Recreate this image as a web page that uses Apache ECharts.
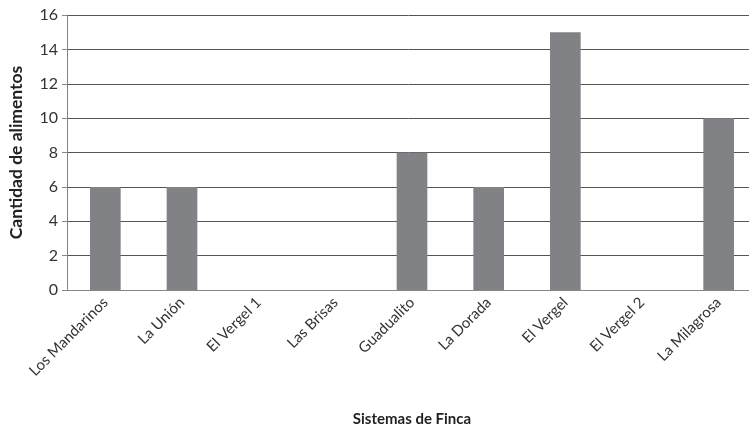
<!DOCTYPE html>
<html><head><meta charset="utf-8">
<script src="https://cdn.jsdelivr.net/npm/echarts@6/dist/echarts.min.js"></script>
<style>html,body{margin:0;padding:0;background:#fff}#c{width:749px;height:428px}</style>
</head><body><div id="c"></div>
<script>
var categories = ["Los Mandarinos","La Unión","El Vergel 1","Las Brisas","Guadualito","La Dorada","El Vergel","El Vergel 2","La Milagrosa"];
var values = [6,6,0,0,8,6,15,0,10];
var yTicks = {min:0,max:16,interval:2};
var xTitle = "Sistemas de Finca";
var yTitle = "Cantidad de alimentos";
var font = "Lato, 'Open Sans', sans-serif";
var chart = echarts.init(document.getElementById('c'));
chart.setOption({
  animation:false,
  grid:{left:67,top:15,width:690,bottom:138,containLabel:false,outerBoundsMode:'none'},
  xAxis:{type:'category',data:categories,
    name:xTitle,nameLocation:'middle',nameGap:122,
    nameTextStyle:{fontFamily:font,fontWeight:'bold',fontSize:15,color:'#222'},
    axisLine:{lineStyle:{color:'#868686',width:1}},axisTick:{show:false},
    axisLabel:{rotate:45,interval:0,fontFamily:font,fontSize:15,color:'#333',margin:10,padding:[0,0,0,0]}},
  yAxis:{type:'value',min:yTicks.min,max:yTicks.max,interval:yTicks.interval,
    name:yTitle,nameLocation:'middle',nameGap:42,nameRotate:90,
    nameTextStyle:{fontFamily:font,fontWeight:'bold',fontSize:17.5,color:'#222'},
    axisLine:{show:true,lineStyle:{color:'#868686'}},
    axisTick:{show:true,length:5,lineStyle:{color:'#868686'}},
    axisLabel:{fontFamily:font,fontSize:16,color:'#333',margin:9},
    splitLine:{lineStyle:{color:'#555',width:1}}},
  series:[{type:'bar',data:values,barWidth:'40%',itemStyle:{color:'#808285'}}]
});
</script></body></html>
